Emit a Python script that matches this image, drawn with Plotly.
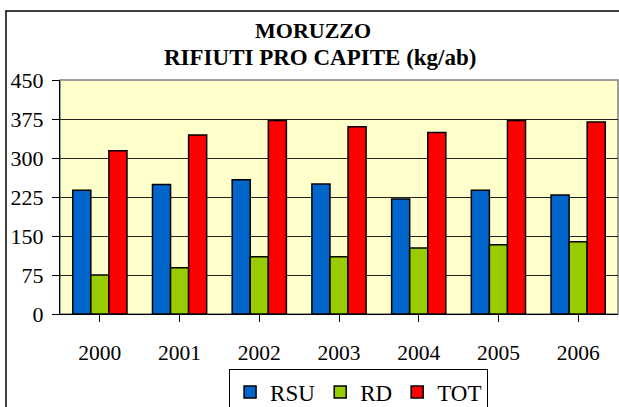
import plotly.graph_objects as go

years = ["2000", "2001", "2002", "2003", "2004", "2005", "2006"]
rsu = [238, 249, 258, 250, 221, 238, 229]
rd = [75, 89, 110, 110, 127, 133, 139]
tot = [314, 344, 372, 360, 349, 372, 369]
y_ticks = [0, 75, 150, 225, 300, 375, 450]
title_lines = ["MORUZZO", "RIFIUTI PRO CAPITE (kg/ab)"]

series = [("RSU", rsu, "#0066CC"), ("RD", rd, "#99CC00"), ("TOT", tot, "#FF0000")]

fig = go.Figure()
for name, vals, col in series:
    fig.add_trace(go.Bar(
        x=years, y=vals, name=name,
        marker=dict(color=col, line=dict(color="#000000", width=1.5)),
    ))

FONT = "Liberation Serif"

fig.update_layout(
    template="none",
    width=619, height=407,
    margin=dict(l=60, r=1, t=80, b=93, autoexpand=False),
    paper_bgcolor="white",
    plot_bgcolor="#FFFFCC",
    barmode="group",
    bargap=0.32,
    bargroupgap=0,
    font=dict(family=FONT, size=21, color="black"),
    showlegend=True,
    legend=dict(
        orientation="h",
        x=0.303, xanchor="left",
        y=-0.237, yanchor="top",
        bordercolor="black", borderwidth=1,
        bgcolor="white",
        font=dict(family=FONT, size=23, color="black"),
        itemwidth=30,
        tracegroupgap=0,
    ),
    xaxis=dict(
        showline=True, linecolor="black", linewidth=1,
        ticks="outside", ticklen=7, tickcolor="black",
        tickson="boundaries",
        ticklabelstandoff=12,
        showgrid=False,
        tickfont=dict(family=FONT, size=21.5, color="black"),
    ),
    yaxis=dict(
        range=[0, 450],
        tickvals=y_ticks,
        showline=True, linecolor="black", linewidth=1,
        ticks="outside", ticklen=7, tickcolor="black",
        ticklabelstandoff=4,
        showgrid=True, gridcolor="#222222", gridwidth=1,
        zeroline=False,
        tickfont=dict(family=FONT, size=22, color="black"),
    ),
    shapes=[
        dict(type="rect", xref="paper", yref="paper", x0=0, x1=1, y0=0, y1=1,
             line=dict(color="#808080", width=1.5), layer="below"),
        dict(type="rect", xref="paper", yref="paper",
             x0=-0.0968, x1=1.2, y0=-0.6, y1=1.2949,
             line=dict(color="black", width=1.5), layer="below"),
    ],
    annotations=[
        dict(text="<b>" + title_lines[0] + "</b>", xref="paper", yref="paper",
             x=0.4534, y=1.212, xanchor="center", yanchor="middle", showarrow=False,
             font=dict(family=FONT, size=22, color="black")),
        dict(text="<b>" + title_lines[1] + "</b>", xref="paper", yref="paper",
             x=0.466, y=1.098, xanchor="center", yanchor="middle", showarrow=False,
             font=dict(family=FONT, size=23, color="black")),
    ],
)

fig.write_html("out.html", config={"displayModeBar": False},
               post_script="document.body.style.margin='0';document.body.style.overflow='hidden';")
